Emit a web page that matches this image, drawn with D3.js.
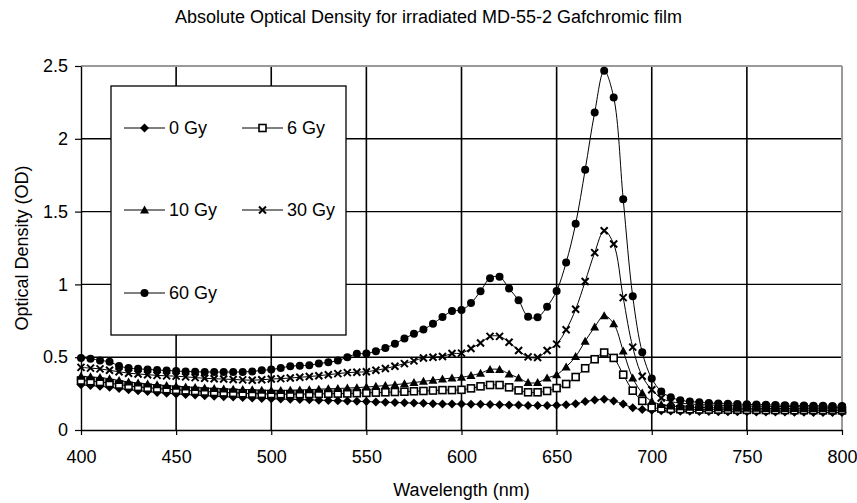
<!DOCTYPE html>
<html>
<head>
<meta charset="utf-8">
<script src="https://cdn.jsdelivr.net/npm/d3@7"></script>
<style>
  html, body { margin: 0; padding: 0; background: #fff; }
  svg { display: block; font-family: "Liberation Sans", Arial, sans-serif; }
</style>
</head>
<body>
<svg id="chart" width="857" height="503"></svg>
<script>
// Wavelength samples (nm)
const wavelengths = [400,405,410,415,420,425,430,435,440,445,450,455,460,465,470,475,480,485,490,495,
  500,505,510,515,520,525,530,535,540,545,550,555,560,565,570,575,580,585,590,595,
  600,605,610,615,620,625,630,635,640,645,650,655,660,665,670,675,680,685,690,695,
  700,705,710,715,720,725,730,735,740,745,750,755,760,765,770,775,780,785,790,795,800];

// Optical density per dose
const od0Gy = [0.310,0.305,0.300,0.294,0.285,0.277,0.270,0.264,0.258,0.253,0.248,0.244,0.240,0.236,0.232,0.229,0.226,0.223,0.220,0.217,
  0.215,0.213,0.211,0.209,0.207,0.205,0.203,0.201,0.199,0.197,0.195,0.193,0.191,0.189,0.187,0.185,0.183,0.181,0.179,0.178,
  0.178,0.177,0.176,0.175,0.174,0.172,0.171,0.169,0.168,0.168,0.170,0.174,0.180,0.195,0.206,0.212,0.200,0.178,0.152,0.140,
  0.135,0.132,0.130,0.129,0.128,0.127,0.127,0.126,0.126,0.125,0.125,0.124,0.124,0.123,0.123,0.122,0.122,0.121,0.121,0.120,0.120];

const od6Gy = [0.340,0.335,0.330,0.322,0.312,0.303,0.296,0.290,0.285,0.280,0.276,0.272,0.268,0.264,0.261,0.258,0.255,0.252,0.250,0.248,
  0.247,0.246,0.246,0.246,0.247,0.248,0.249,0.250,0.251,0.253,0.255,0.257,0.259,0.261,0.263,0.266,0.268,0.271,0.274,0.274,
  0.276,0.286,0.300,0.309,0.309,0.293,0.272,0.259,0.259,0.268,0.288,0.316,0.364,0.424,0.486,0.532,0.495,0.380,0.270,0.200,
  0.155,0.148,0.145,0.143,0.142,0.141,0.140,0.140,0.139,0.139,0.138,0.138,0.137,0.137,0.137,0.136,0.136,0.136,0.135,0.135,0.135];

const od10Gy = [0.370,0.365,0.360,0.352,0.340,0.330,0.322,0.316,0.310,0.305,0.300,0.296,0.292,0.288,0.285,0.282,0.280,0.278,0.276,0.273,
  0.272,0.272,0.273,0.275,0.277,0.280,0.283,0.285,0.288,0.291,0.295,0.300,0.305,0.311,0.318,0.326,0.334,0.342,0.350,0.357,
  0.362,0.374,0.390,0.415,0.415,0.385,0.357,0.326,0.326,0.357,0.380,0.433,0.505,0.610,0.707,0.785,0.730,0.543,0.357,0.254,
  0.197,0.175,0.165,0.160,0.157,0.155,0.153,0.152,0.151,0.150,0.149,0.149,0.148,0.148,0.147,0.147,0.146,0.146,0.146,0.145,0.145];

const od30Gy = [0.430,0.425,0.420,0.410,0.400,0.390,0.385,0.380,0.375,0.372,0.370,0.365,0.360,0.355,0.352,0.350,0.347,0.344,0.342,0.345,
  0.350,0.353,0.357,0.362,0.367,0.373,0.380,0.387,0.394,0.397,0.400,0.410,0.422,0.438,0.456,0.475,0.495,0.500,0.505,0.525,
  0.528,0.560,0.597,0.643,0.643,0.603,0.546,0.502,0.498,0.546,0.590,0.688,0.829,1.020,1.218,1.369,1.277,0.909,0.569,0.369,
  0.277,0.220,0.195,0.185,0.178,0.175,0.172,0.170,0.168,0.166,0.165,0.164,0.163,0.162,0.161,0.160,0.159,0.158,0.157,0.156,0.155];

const od60Gy = [0.495,0.490,0.478,0.468,0.440,0.425,0.420,0.416,0.412,0.409,0.405,0.402,0.400,0.399,0.398,0.398,0.398,0.399,0.402,0.410,
  0.415,0.426,0.438,0.442,0.445,0.456,0.465,0.477,0.500,0.523,0.525,0.541,0.564,0.592,0.629,0.661,0.690,0.730,0.776,0.817,
  0.824,0.872,0.953,1.043,1.052,0.971,0.891,0.778,0.774,0.847,0.955,1.150,1.417,1.787,2.180,2.468,2.284,1.585,0.918,0.534,
  0.353,0.265,0.225,0.205,0.195,0.190,0.185,0.182,0.180,0.178,0.176,0.175,0.173,0.172,0.170,0.170,0.168,0.167,0.166,0.165,0.165];

const seriesNames = ["0 Gy", "6 Gy", "10 Gy", "30 Gy", "60 Gy"];
const seriesValues = [od0Gy, od6Gy, od10Gy, od30Gy, od60Gy];
const seriesMarkers = ["diamond", "square", "triangle", "cross", "circle"];

const xTicks = [400, 450, 500, 550, 600, 650, 700, 750, 800];
const yTicks = [0, 0.5, 1, 1.5, 2, 2.5];
const yTickLabels = ["0", "0.5", "1", "1.5", "2", "2.5"];

const titleText = "Absolute Optical Density for irradiated MD-55-2 Gafchromic film";
const xTitle = "Wavelength (nm)";
const yTitle = "Optical Density (OD)";

// Plot area
const W = 857, H = 503;
const plot = { left: 81, top: 66, right: 842, bottom: 430 };
const FONT = 18;

const svg = d3.select("#chart");

const x = d3.scaleLinear().domain([400, 800]).range([plot.left, plot.right]);
const y = d3.scaleLinear().domain([0, 2.5]).range([plot.bottom, plot.top]);

// Grid
const grid = svg.append("g");
grid.selectAll("line.v").data(xTicks.slice(1, -1)).join("line")
  .attr("x1", d => x(d)).attr("x2", d => x(d))
  .attr("y1", plot.top).attr("y2", plot.bottom)
  .attr("stroke", "#000").attr("stroke-width", 1.6);
grid.selectAll("line.h").data(yTicks.slice(1, -1)).join("line")
  .attr("x1", plot.left).attr("x2", plot.right)
  .attr("y1", d => y(d)).attr("y2", d => y(d))
  .attr("stroke", "#000").attr("stroke-width", 1.4);

// Plot frame: grey top/right, black axes
svg.append("line").attr("x1", plot.left).attr("x2", plot.right)
  .attr("y1", plot.top).attr("y2", plot.top).attr("stroke", "#9a9a9a").attr("stroke-width", 2);
svg.append("line").attr("x1", plot.right).attr("x2", plot.right)
  .attr("y1", plot.top).attr("y2", plot.bottom).attr("stroke", "#9a9a9a").attr("stroke-width", 2);

// Axes
const xAxis = d3.axisBottom(x).tickValues(xTicks).tickSize(5).tickSizeOuter(0).tickFormat(d3.format("d"));
const yAxis = d3.axisLeft(y).tickValues(yTicks).tickSize(6).tickSizeOuter(0)
  .tickFormat((d, i) => yTickLabels[i]);

const gx = svg.append("g").attr("transform", `translate(0,${plot.bottom})`).call(xAxis);
gx.select(".domain").attr("stroke", "#000").attr("stroke-width", 1.4);
gx.selectAll(".tick line").attr("stroke", "#000").attr("stroke-width", 1.2);
gx.selectAll(".tick text").attr("font-size", FONT).attr("font-family", "Liberation Sans, Arial, sans-serif")
  .attr("fill", "#000").attr("y", 20).attr("dy", "0.71em");

const gy = svg.append("g").attr("transform", `translate(${plot.left},0)`).call(yAxis);
gy.select(".domain").attr("stroke", "#000").attr("stroke-width", 1.4);
gy.selectAll(".tick line").attr("stroke", "#000").attr("stroke-width", 1.2);
gy.selectAll(".tick text").attr("font-size", FONT).attr("font-family", "Liberation Sans, Arial, sans-serif")
  .attr("fill", "#000").attr("x", -13);

// Titles
svg.append("text").attr("x", W / 2).attr("y", 23).attr("text-anchor", "middle")
  .attr("font-size", FONT).text(titleText);
svg.append("text").attr("x", (plot.left + plot.right) / 2).attr("y", 496).attr("text-anchor", "middle")
  .attr("font-size", FONT).text(xTitle);
svg.append("text").attr("transform", `translate(28,${(plot.top + plot.bottom) / 2}) rotate(-90)`)
  .attr("text-anchor", "middle").attr("font-size", FONT).text(yTitle);

// Marker drawing
function drawMarker(g, type) {
  if (type === "diamond") {
    g.append("path").attr("d", "M0,-4.5L4.5,0L0,4.5L-4.5,0Z").attr("fill", "#000");
  } else if (type === "square") {
    g.append("rect").attr("x", -3.5).attr("y", -3.5).attr("width", 7).attr("height", 7)
      .attr("fill", "#fff").attr("stroke", "#000").attr("stroke-width", 1.6);
  } else if (type === "triangle") {
    g.append("path").attr("d", "M0,-4.5L4.5,3.5L-4.5,3.5Z").attr("fill", "#000");
  } else if (type === "cross") {
    g.append("path").attr("d", "M-3.5,-3.5L3.5,3.5M-3.5,3.5L3.5,-3.5")
      .attr("stroke", "#000").attr("stroke-width", 2).attr("fill", "none");
  } else if (type === "circle") {
    g.append("circle").attr("r", 4).attr("fill", "#000");
  }
}

const line = d3.line()
  .x(d => x(d[0])).y(d => y(d[1]))
  .curve(d3.curveCatmullRom.alpha(0.5));

const seriesG = svg.append("g");
seriesValues.forEach((vals, si) => {
  const pts = wavelengths.map((w, i) => [w, vals[i]]);
  const g = seriesG.append("g");
  g.append("path").datum(pts).attr("d", line)
    .attr("fill", "none").attr("stroke", "#000").attr("stroke-width", 1);
  g.selectAll("g.m").data(pts).join("g")
    .attr("transform", d => `translate(${x(d[0])},${y(d[1])})`)
    .each(function () { drawMarker(d3.select(this), seriesMarkers[si]); });
});

// Legend
const legend = svg.append("g");
legend.append("rect").attr("x", 111).attr("y", 86).attr("width", 235).attr("height", 249)
  .attr("fill", "#fff").attr("stroke", "#000").attr("stroke-width", 1.3);
const legendCols = [124, 242];
const legendRows = [128, 210, 293];
seriesNames.forEach((name, i) => {
  const cx = legendCols[i % 2], cy = legendRows[Math.floor(i / 2)];
  const g = legend.append("g").attr("transform", `translate(${cx},${cy})`);
  g.append("line").attr("x1", 0).attr("x2", 41).attr("y1", 0).attr("y2", 0)
    .attr("stroke", "#000").attr("stroke-width", 1);
  const m = g.append("g").attr("transform", "translate(20.5,0)");
  drawMarker(m, seriesMarkers[i]);
  g.append("text").attr("x", 45).attr("y", 0).attr("dy", "0.36em")
    .attr("font-size", FONT).text(name);
});
</script>
</body>
</html>
